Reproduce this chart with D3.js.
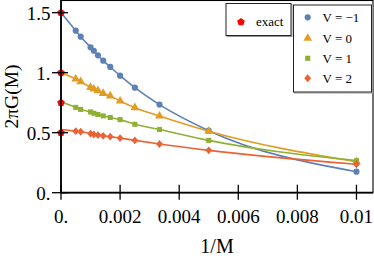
<!DOCTYPE html>
<html>
<head>
<meta charset="utf-8">
<script src="https://cdn.jsdelivr.net/npm/d3@7"></script>
<style>
  body { margin: 0; background: #fff; }
  text { font-family: "Liberation Serif", serif; fill: #000; }
</style>
</head>
<body>
<div id="chart"></div>
<script>
// system sizes M, plotted against 1/M
const sizes = [2000, 1500, 1000, 900, 800, 700, 600, 500, 400, 300, 200, 100];

// 2πG(M) for each V
const seriesNames = ["V = \u22121", "V = 0", "V = 1", "V = 2"];
const valsVm1 = [1.35, 1.30, 1.212, 1.183, 1.145, 1.10, 1.048, 0.975, 0.875, 0.734, 0.517, 0.175];
const valsV0 = [0.947, 0.925, 0.878, 0.864, 0.85, 0.828, 0.806, 0.764, 0.708, 0.639, 0.512, 0.258];
const valsV1 = [0.711, 0.694, 0.673, 0.662, 0.652, 0.64, 0.627, 0.609, 0.57, 0.527, 0.436, 0.267];
const valsV2 = [0.513, 0.508, 0.492, 0.485, 0.48, 0.474, 0.467, 0.455, 0.436, 0.406, 0.353, 0.237];

// fit value at 1/M = 0, and the exact result
const fitStart = [1.5, 1.0, 0.755, 0.527];
const exactVals = [1.5, 1.0, 0.75, 0.5];

const xTicks = [0, 0.002, 0.004, 0.006, 0.008, 0.01];
const xTickLabels = ["0.", "0.002", "0.004", "0.006", "0.008", "0.01"];
const yTicks = [0, 0.5, 1, 1.5];
const yTickLabels = ["0.", "0.5", "1.", "1.5"];

const colors = ["#5E81B5", "#E19C24", "#8FB032", "#EB6235"];

const w = 374, h = 259;
const plotL = 61, plotR = 373, plotT = 0.7, plotB = 192.7;

const svg = d3.select("#chart").append("svg")
  .attr("width", w)
  .attr("height", h);

const x = d3.scaleLinear().domain([0, 0.01056]).range([plotL, plotR]);
const y = d3.scaleLinear().domain([0, 1.6]).range([plotB, plotT]);

// frame
svg.append("rect")
  .attr("x", plotL).attr("y", 0.5)
  .attr("width", plotR - plotL).attr("height", plotB - 0.5)
  .attr("fill", "none").attr("stroke", "#000").attr("stroke-width", 1.1);

const allVals = [valsVm1, valsV0, valsV1, valsV2];
const invM = sizes.map(m => 1 / m);

const line = d3.line()
  .x(d => x(d[0]))
  .y(d => y(d[1]))
  .curve(d3.curveMonotoneX);

// markers
const diamond = {
  draw(ctx, size) {
    const r = Math.sqrt(size) / 1.6;
    ctx.moveTo(0, -r * 1.15); ctx.lineTo(r, 0); ctx.lineTo(0, r * 1.15); ctx.lineTo(-r, 0); ctx.closePath();
  }
};
const pentagon = {
  draw(ctx, size) {
    const r = Math.sqrt(size);
    d3.range(5).forEach(i => {
      const a = -Math.PI / 2 + i * 2 * Math.PI / 5;
      if (i === 0) ctx.moveTo(r * Math.cos(a), r * Math.sin(a));
      else ctx.lineTo(r * Math.cos(a), r * Math.sin(a));
    });
    ctx.closePath();
  }
};
const symbols = [
  d3.symbol(d3.symbolCircle, 30),
  d3.symbol(d3.symbolTriangle, 34),
  d3.symbol(d3.symbolSquare, 26),
  d3.symbol(diamond, 30)
];

allVals.forEach((vals, i) => {
  const pts = [[0, fitStart[i]]].concat(invM.map((v, j) => [v, vals[j]]));
  svg.append("path")
    .attr("d", line(pts))
    .attr("fill", "none")
    .attr("stroke", colors[i])
    .attr("stroke-width", 1.6);

  svg.selectAll(".pt" + i)
    .data(invM.map((v, j) => [v, vals[j]]))
    .enter().append("path")
    .attr("class", "pt" + i)
    .attr("transform", d => `translate(${x(d[0])},${y(d[1])})`)
    .attr("d", symbols[i]())
    .attr("fill", colors[i]);
});

// exact values
svg.selectAll(".exact")
  .data(exactVals)
  .enter().append("path")
  .attr("class", "exact")
  .attr("transform", d => `translate(${x(0)},${y(d)})`)
  .attr("d", d3.symbol(pentagon, 16)())
  .attr("fill", "#FF0000");

// axes
svg.append("line")
  .attr("x1", plotL).attr("x2", plotR)
  .attr("y1", plotB).attr("y2", plotB)
  .attr("stroke", "#000").attr("stroke-width", 1.7);
svg.append("line")
  .attr("x1", plotL).attr("x2", plotL)
  .attr("y1", 0).attr("y2", plotB)
  .attr("stroke", "#000").attr("stroke-width", 1.7);

svg.selectAll(".xt")
  .data(xTicks)
  .enter().append("line")
  .attr("x1", d => x(d)).attr("x2", d => x(d))
  .attr("y1", plotB - 8).attr("y2", plotB + 7)
  .attr("stroke", "#000").attr("stroke-width", 1.3);
svg.selectAll(".xl")
  .data(xTicks)
  .enter().append("text")
  .attr("x", d => x(d)).attr("y", 222.5)
  .attr("text-anchor", "middle")
  .attr("font-size", 19)
  .text((d, i) => xTickLabels[i]);

svg.selectAll(".yt")
  .data(yTicks)
  .enter().append("line")
  .attr("x1", plotL - 9).attr("x2", plotL + 7)
  .attr("y1", d => y(d)).attr("y2", d => y(d))
  .attr("stroke", "#000").attr("stroke-width", 1.3);
svg.selectAll(".yl")
  .data(yTicks)
  .enter().append("text")
  .attr("x", 50.5).attr("y", d => y(d) + 7.5)
  .attr("text-anchor", "end")
  .attr("font-size", 19)
  .text((d, i) => yTickLabels[i]);

// axis titles
svg.append("text")
  .attr("x", (plotL + plotR) / 2).attr("y", 253)
  .attr("text-anchor", "middle")
  .attr("font-size", 20)
  .text("1/M");
svg.append("text")
  .attr("transform", `translate(17.5,96.5) rotate(-90)`)
  .attr("text-anchor", "middle")
  .attr("font-size", 19.5)
  .text("2\u03C0G(M)");

// legends
function box(x0, y0, bw, bh) {
  svg.append("rect")
    .attr("x", x0 + 1).attr("y", y0 + 1).attr("width", bw).attr("height", bh)
    .attr("fill", "none").attr("stroke", "#999").attr("stroke-width", 1);
  svg.append("rect")
    .attr("x", x0).attr("y", y0).attr("width", bw).attr("height", bh)
    .attr("fill", "#fff").attr("stroke", "#222").attr("stroke-width", 1);
}

box(226, 3.5, 65, 32);
svg.append("path")
  .attr("transform", "translate(241,22)")
  .attr("d", d3.symbol(pentagon, 16)())
  .attr("fill", "#FF0000");
svg.append("text")
  .attr("x", 256).attr("y", 25.5)
  .attr("font-size", 13)
  .text("exact");

box(293.5, 5, 78, 87);
const legendRows = [17.3, 38.3, 58.3, 78.3];
seriesNames.forEach((name, i) => {
  svg.append("path")
    .attr("transform", `translate(307.7,${legendRows[i]})`)
    .attr("d", symbols[i]())
    .attr("fill", colors[i]);
  svg.append("text")
    .attr("x", 322.5).attr("y", legendRows[i] + 4.5)
    .attr("font-size", 13)
    .text(name);
});
</script>
</body>
</html>
